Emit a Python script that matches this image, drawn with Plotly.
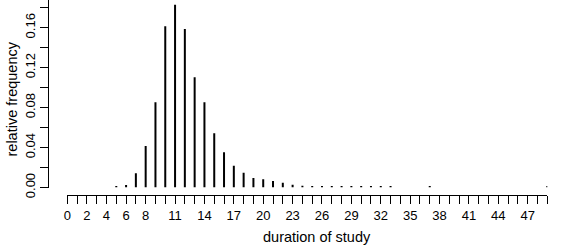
import plotly.graph_objects as go

# data
durations = [5, 6, 7, 8, 9, 10, 11, 12, 13, 14, 15, 16, 17, 18, 19, 20, 21, 22, 23, 24, 25,
             26, 27, 28, 29, 30, 31, 32, 33, 37, 49]
rel_freq = [0.0015, 0.0025, 0.0142, 0.0416, 0.0853, 0.1614, 0.183, 0.1587, 0.1103, 0.0853,
            0.0543, 0.0352, 0.0218, 0.0148, 0.0095, 0.0082, 0.0065, 0.0048, 0.0028, 0.0018,
            0.0015, 0.0015, 0.0015, 0.0015, 0.0015, 0.0015, 0.0015, 0.0015, 0.0015, 0.0015, 0.0015]
x_ticks = list(range(0, 50))
x_tick_labels = ["0", "2", "4", "6", "8", "11", "14", "17", "20", "23", "26", "29", "32",
                 "35", "38", "41", "44", "47"]
y_ticks = [0.00, 0.02, 0.04, 0.06, 0.08, 0.10, 0.12, 0.14, 0.16, 0.18]
y_tick_labels = ["0.00", "", "0.04", "", "0.08", "", "0.12", "", "0.16", ""]

# build vertical "h" lines
xs, ys = [], []
for d, v in zip(durations, rel_freq):
    xs += [d, d, None]
    ys += [0, v, None]

W, H = 568, 245
FONT = "Liberation Sans, Arial, Helvetica, sans-serif"

fig = go.Figure()
fig.add_trace(go.Scatter(x=xs, y=ys, mode="lines",
                         line=dict(color="black", width=2), hoverinfo="skip",
                         showlegend=False))

x_text = [str(t) if str(t) in x_tick_labels else "" for t in x_ticks]

fig.update_layout(
    width=W, height=H,
    margin=dict(l=0, r=0, t=0, b=0, pad=0),
    paper_bgcolor="white", plot_bgcolor="white",
    font=dict(family=FONT, size=13, color="black"),
    xaxis=dict(
        domain=[67.3 / W, 547.3 / W], range=[0, 49],
        anchor="free", position=(H - 195) / H, automargin=False,
        showgrid=False, zeroline=False,
        showline=True, linecolor="black", linewidth=1,
        ticks="outside", ticklen=8, tickwidth=1, tickcolor="black",
        tickmode="array", tickvals=x_ticks, ticktext=x_text,
        tickfont=dict(size=13),
    ),
    yaxis=dict(
        domain=[(H - 187.5) / H, 1], range=[0, 187.5 / 998.75],
        anchor="free", position=48.3 / W, automargin=False,
        showgrid=False, zeroline=False,
        showline=True, linecolor="black", linewidth=1,
        ticks="outside", ticklen=8, tickwidth=1, tickcolor="black",
        tickmode="array", tickvals=y_ticks, ticktext=y_tick_labels,
        tickangle=-90, tickfont=dict(size=13),
    ),
    annotations=[
        dict(text="duration of study", x=317 / W, y=(H - 237) / H, xref="paper", yref="paper",
             showarrow=False, font=dict(size=14.5), xanchor="center", yanchor="middle"),
        dict(text="relative frequency", x=11 / W, y=(H - 99.5) / H, xref="paper", yref="paper",
             showarrow=False, font=dict(size=14.5), textangle=-90,
             xanchor="center", yanchor="middle"),
    ],
)

fig.write_html("out.html", config={"displayModeBar": False},
               post_script="document.body.style.margin='0';document.body.style.padding='0';")
